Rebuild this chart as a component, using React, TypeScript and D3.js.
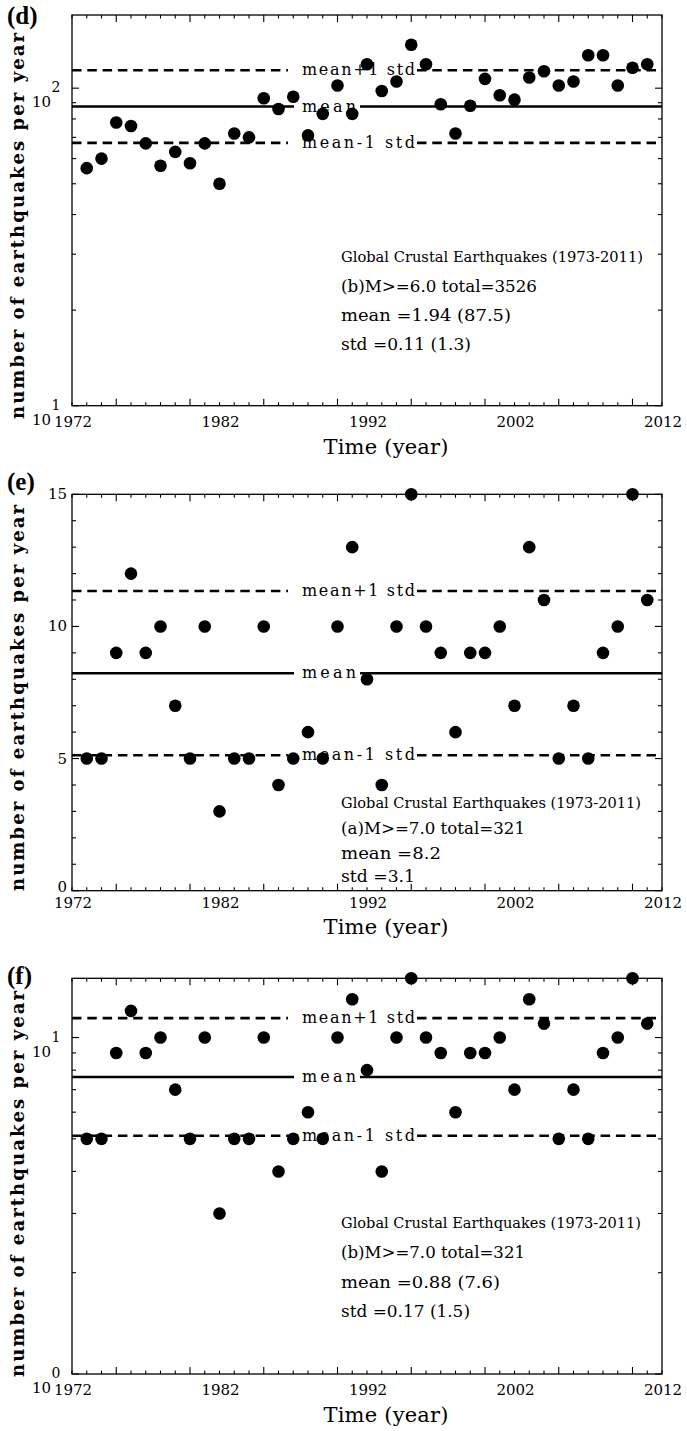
import React from "react";
import * as d3 from "d3";

// ---------- data ----------
const years = [1973, 1974, 1975, 1976, 1977, 1978, 1979, 1980, 1981, 1982, 1983, 1984, 1985, 1986, 1987, 1988, 1989, 1990, 1991, 1992, 1993, 1994, 1995, 1996, 1997, 1998, 1999, 2000, 2001, 2002, 2003, 2004, 2005, 2006, 2007, 2008, 2009, 2010, 2011];
const countsM6 = [56, 60, 78, 76, 67, 57, 63, 58, 67, 50, 72, 70, 93, 86, 94, 71, 83, 102, 83, 119, 98, 105, 137, 119, 89, 72, 88, 107, 95, 92, 108, 113, 102, 105, 127, 127, 102, 116, 119];
const countsM7 = [5, 5, 9, 12, 9, 10, 7, 5, 10, 3, 5, 5, 10, 4, 5, 6, 5, 10, 13, 8, 4, 10, 15, 10, 9, 6, 9, 9, 10, 7, 13, 11, 5, 7, 5, 9, 10, 15, 11];
const xTickLabels = [1972, 1982, 1992, 2002, 2012];
const notesD = ["Global Crustal Earthquakes (1973-2011)", "(b)M>=6.0 total=3526", "mean =1.94 (87.5)", "std =0.11 (1.3)"];
const notesE = ["Global Crustal Earthquakes (1973-2011)", "(a)M>=7.0 total=321", "mean =8.2", "std =3.1"];
const notesF = ["Global Crustal Earthquakes (1973-2011)", "(b)M>=7.0 total=321", "mean =0.88 (7.6)", "std =0.17 (1.5)"];
const lineLabels = ["mean+1 std", "mean", "mean-1 std"];

// ---------- layout ----------
const W = 687;
const H = 1431;
const X0 = 72;
const X1 = 662;
const SERIF = "'DejaVu Serif', serif";
const TIMES = "'Liberation Serif', 'Times New Roman', serif";

const panels = [
  {
    key: "d", kind: "log", domain: [10, 170], top: 15, bottom: 405.7, values: countsM6,
    notes: notesD, noteY: [262, 292, 321, 350], noteW: [302, 196, 170, 130],
    tag: "(d)", tagY: 24, titleY: 454, ylabCenter: 226, xlabOff: 21,
  },
  {
    key: "e", kind: "linear", domain: [0, 15], top: 494.3, bottom: 890.7, values: countsM7,
    notes: notesE, noteY: [808, 834, 859, 882], noteW: [300, 184, 100, 74],
    tag: "(e)", tagY: 490, titleY: 934, ylabCenter: 698, xlabOff: 17,
  },
  {
    key: "f", kind: "log", domain: [1, 15], top: 978.3, bottom: 1374, values: countsM7,
    notes: notesF, noteY: [1228, 1258, 1288, 1317], noteW: [300, 184, 159, 129],
    tag: "(f)", tagY: 984, titleY: 1422, ylabCenter: 1184, xlabOff: 21,
  },
];

const x = d3.scaleLinear().domain([1972, 2012]).range([X0, X1]);

function Panel({ p }: { p: any }) {
  const isLog = p.kind === "log";
  const y: any = isLog
    ? d3.scaleLog().domain(p.domain).range([p.bottom, p.top])
    : d3.scaleLinear().domain(p.domain).range([p.bottom, p.top]);

  // statistics (in log space for log panels)
  const tv = p.values.map((v: number) => (isLog ? Math.log10(v) : v));
  const m = d3.mean(tv) as number;
  const s = d3.deviation(tv) as number;
  const back = (t: number) => (isLog ? Math.pow(10, t) : t);
  const levels = [back(m + s), back(m), back(m - s)];

  const xTicks = d3.range(1972, 2013);
  const yTicks: number[] = isLog ? y.ticks() : d3.range(0, 16);
  const isMajorY = (v: number) =>
    isLog ? Math.abs(Math.log10(v) - Math.round(Math.log10(v))) < 1e-9 : v % 5 === 0;

  const gaps = [
    [288, 417],
    [294, 360],
    [288, 417],
  ];

  return (
    <g>
      {/* frame */}
      <rect x={X0} y={p.top} width={X1 - X0} height={p.bottom - p.top} fill="none" stroke="#000" strokeWidth={1.3} />

      {/* x ticks */}
      {xTicks.map((t) => {
        const len = t % 5 === 0 ? 7 : 3.5;
        return (
          <g key={"xt" + t}>
            <line x1={x(t)} x2={x(t)} y1={p.bottom} y2={p.bottom - len} stroke="#000" strokeWidth={1.1} />
            <line x1={x(t)} x2={x(t)} y1={p.top} y2={p.top + len} stroke="#000" strokeWidth={1.1} />
          </g>
        );
      })}
      {xTickLabels.map((t) => (
        <text key={"xl" + t} x={x(t) + 1} y={p.bottom + p.xlabOff} textAnchor="middle" fontFamily={SERIF} fontSize={15}>
          {t}
        </text>
      ))}

      {/* y ticks */}
      {yTicks.map((v) => {
        const len = isMajorY(v) ? 7 : 4;
        return (
          <g key={"yt" + v}>
            <line x1={X0} x2={X0 + len} y1={y(v)} y2={y(v)} stroke="#000" strokeWidth={1.1} />
            <line x1={X1} x2={X1 - len} y1={y(v)} y2={y(v)} stroke="#000" strokeWidth={1.1} />
          </g>
        );
      })}
      {yTicks.filter(isMajorY).map((v) =>
        isLog ? (
          <g key={"yl" + v}>
            <text x={51} y={y(v) + 19} textAnchor="end" fontFamily={SERIF} fontSize={15}>10</text>
            <text x={51.5} y={y(v) + 4} textAnchor="start" fontFamily={SERIF} fontSize={14}>
              {Math.round(Math.log10(v))}
            </text>
          </g>
        ) : (
          <text key={"yl" + v} x={67} y={y(v) + (v === 0 ? 1 : 5)} textAnchor="end" fontFamily={SERIF} fontSize={15}>
            {v}
          </text>
        )
      )}

      {/* mean and std lines */}
      {levels.map((lv, i) => (
        <g key={"lv" + i}>
          <line x1={X0} x2={gaps[i][0]} y1={y(lv)} y2={y(lv)} stroke="#000" strokeWidth={2.6}
            strokeDasharray={i === 1 ? undefined : "9.5 5.8"} />
          <line x1={gaps[i][1]} x2={X1} y1={y(lv)} y2={y(lv)} stroke="#000" strokeWidth={2.6}
            strokeDasharray={i === 1 ? undefined : "9.5 5.8"} />
          <text x={302} y={y(lv) + 5} fontFamily={SERIF} fontSize={16}
            textLength={i === 1 ? 54 : 113} lengthAdjust="spacing">
            {lineLabels[i]}
          </text>
        </g>
      ))}

      {/* notes */}
      {p.notes.map((t: string, i: number) => (
        <text key={"n" + i} x={341} y={p.noteY[i]} fontFamily={SERIF} fontSize={i === 0 ? 14 : 16.5}
          textLength={p.noteW[i]} lengthAdjust="spacingAndGlyphs">
          {t}
        </text>
      ))}

      {/* points */}
      {p.values.map((v: number, i: number) => (
        <circle key={"pt" + i} cx={x(years[i])} cy={y(v)} r={6.3} fill="#000" />
      ))}

      {/* titles */}
      <text x={386} y={p.titleY} textAnchor="middle" fontFamily={SERIF} fontSize={21} textLength={125} lengthAdjust="spacing">
        Time (year)
      </text>
      <text transform={`translate(24,${p.ylabCenter}) rotate(-90)`} textAnchor="middle" fontFamily={SERIF}
        fontWeight="bold" fontSize={18} textLength={386} lengthAdjust="spacing">
        number of earthquakes per year
      </text>
      <text x={7} y={p.tagY} fontFamily={TIMES} fontWeight="bold" fontSize={25}>
        {p.tag}
      </text>
    </g>
  );
}

export default function App() {
  return (
    <svg width={W} height={H} viewBox={`0 0 ${W} ${H}`}
      style={{ position: "absolute", left: 0, top: 0, background: "#fff", display: "block" }}>
      <rect x={0} y={0} width={W} height={H} fill="#fff" />
      {panels.map((p) => (
        <Panel key={p.key} p={p} />
      ))}
    </svg>
  );
}
